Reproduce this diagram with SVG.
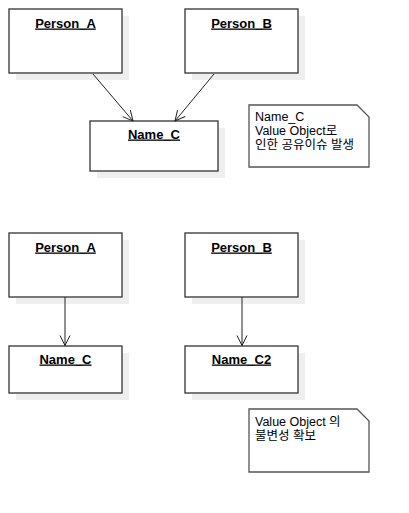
<svg xmlns="http://www.w3.org/2000/svg" width="409" height="513" viewBox="0 0 409 513">
<defs>
<style>
.shadow{fill:#efefef;stroke:none}
.box{fill:#fff;stroke:#333;stroke-width:1.3}
.title{font-family:"Liberation Sans",Arial,sans-serif;font-size:13px;font-weight:bold;fill:#000;text-anchor:middle;text-decoration:underline}
.note{fill:#fff;stroke:#555;stroke-width:1.3}
.ntext{font-family:"Liberation Sans","Noto Sans CJK KR",sans-serif;font-size:12.5px;fill:#000}
.conn{stroke:#222;stroke-width:1;fill:none}
</style>
<marker id="open" viewBox="0 0 12 12" refX="11" refY="6" markerWidth="12" markerHeight="12" markerUnits="userSpaceOnUse" orient="auto">
<path d="M1,1 L11,6 L1,11" fill="none" stroke="#222" stroke-width="1"/>
</marker>
</defs>
<rect width="409" height="513" fill="#fff"/>
<g id="top-person-a">
<rect class="shadow" x="16" y="16" width="113" height="64"/>
<rect class="box" x="9" y="9" width="113" height="64"/>
<text class="title" x="65.5" y="27.5">Person_A</text>
</g>
<g id="top-person-b">
<rect class="shadow" x="192" y="16" width="113" height="64"/>
<rect class="box" x="185" y="9" width="113" height="64"/>
<text class="title" x="241.5" y="27.5">Person_B</text>
</g>
<g id="top-name-c">
<rect class="shadow" x="97" y="128" width="128" height="50"/>
<rect class="box" x="90" y="121" width="128" height="50"/>
<text class="title" x="154" y="138.5">Name_C</text>
</g>
<g id="note-1">
<path class="note" d="M249,105 H357 L369,117 V167 H249 Z"/>
<text class="ntext" x="255" y="121">Name_C</text>
<text class="ntext" x="255" y="135">Value Object로</text>
<text class="ntext" x="255" y="149">인한 공유이슈 발생</text>
</g>
<g id="bottom-person-a">
<rect class="shadow" x="16" y="240" width="113" height="64"/>
<rect class="box" x="9" y="233" width="113" height="64"/>
<text class="title" x="65.5" y="251.5">Person_A</text>
</g>
<g id="bottom-person-b">
<rect class="shadow" x="192" y="240" width="113" height="64"/>
<rect class="box" x="185" y="233" width="113" height="64"/>
<text class="title" x="241.5" y="251.5">Person_B</text>
</g>
<g id="bottom-name-c">
<rect class="shadow" x="16" y="353" width="113" height="47"/>
<rect class="box" x="9" y="346" width="113" height="47"/>
<text class="title" x="65.5" y="363.5">Name_C</text>
</g>
<g id="bottom-name-c2">
<rect class="shadow" x="192" y="353" width="113" height="47"/>
<rect class="box" x="185" y="346" width="113" height="47"/>
<text class="title" x="241.5" y="363.5">Name_C2</text>
</g>
<g id="note-2">
<path class="note" d="M249,409 H357 L369,421 V472 H249 Z"/>
<text class="ntext" x="255" y="426">Value Object 의</text>
<text class="ntext" x="255" y="440">불변성 확보</text>
</g>
<g id="connectors">
<line class="conn" x1="93" y1="74" x2="133" y2="121" marker-end="url(#open)"/>
<line class="conn" x1="214" y1="74" x2="175" y2="121" marker-end="url(#open)"/>
<line class="conn" x1="65" y1="297" x2="65" y2="345.5" marker-end="url(#open)"/>
<line class="conn" x1="242" y1="297" x2="242" y2="345.5" marker-end="url(#open)"/>
</g>
</svg>
